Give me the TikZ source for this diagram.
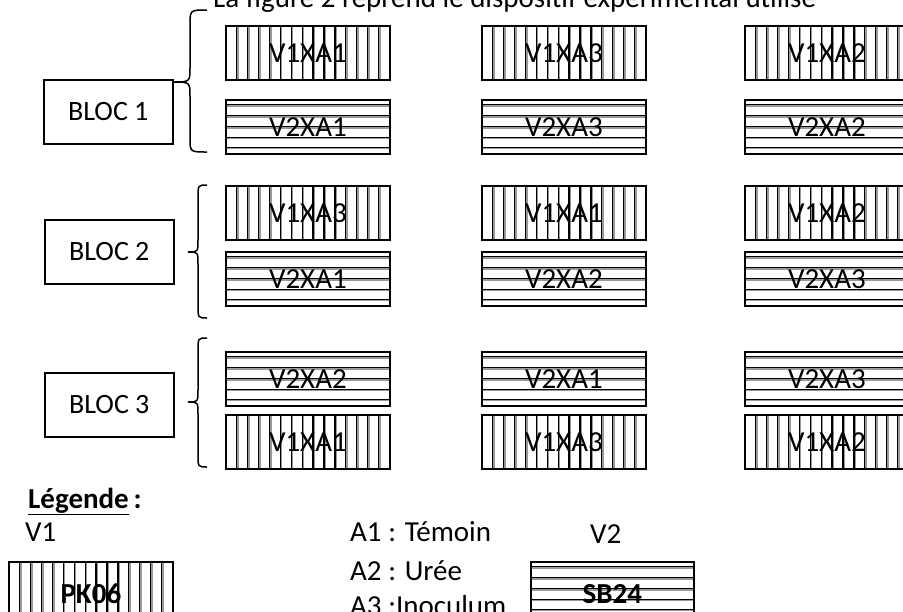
\documentclass[tikz,border=0pt]{standalone}
\usepackage{fontspec}
\setmainfont{Carlito}
\begin{document}
\begin{tikzpicture}[x=1pt,y=-1pt,
  txt/.style={font=\fontsize{29}{34}\selectfont, inner sep=0pt},
  plotv/.style={draw, line width=1.8pt, minimum width=164pt, minimum height=54pt, inner sep=0pt, anchor=north west,
    font=\fontsize{29}{34}\selectfont,
    path picture={
      \foreach \i in {1,...,14} {
        \draw[black!40, line width=1.4pt] ([xshift=\i*10.9pt+1.3pt]path picture bounding box.south west) -- ([xshift=\i*10.9pt+1.3pt]path picture bounding box.north west);
        \draw[black, line width=1.3pt] ([xshift=\i*10.9pt]path picture bounding box.south west) -- ([xshift=\i*10.9pt]path picture bounding box.north west);
      }}},
  ploth/.style={draw, line width=1.8pt, minimum width=164pt, minimum height=54pt, inner sep=0pt, anchor=north west,
    font=\fontsize{29}{34}\selectfont,
    path picture={
      \foreach \o in {4.7,15.7,26.7,37.3,47.3,58.3} {
        \draw[black!40, line width=1.4pt] ([yshift=-\o pt-1.3pt]path picture bounding box.north west) -- ([yshift=-\o pt-1.3pt]path picture bounding box.north east);
        \draw[black, line width=1.3pt] ([yshift=-\o pt]path picture bounding box.north west) -- ([yshift=-\o pt]path picture bounding box.north east);
      }}},
  blocbox/.style={draw, line width=1.5pt, minimum width=129pt, minimum height=64pt, inner sep=0pt, anchor=north west,
    font=\fontsize{28}{34}\selectfont},
  bracestyle/.style={line width=1.5pt}
]
\useasboundingbox (0,0) rectangle (903,611);
\clip (0,0) rectangle (903,611);

% title
\node[txt, anchor=base west] (title) at (213,7) {La figure 2 reprend le dispositif expérimental utilisé};

% BLOC boxes
\node[blocbox] (bloc1) at (43,79) {BLOC 1};
\node[blocbox] (bloc2) at (44,219) {BLOC 2};
\node[blocbox] (bloc3) at (44,372) {BLOC 3};

% braces
\draw[bracestyle] (207,10) .. controls (190,10) .. (190,25) -- (190,68) .. controls (190,82) .. (172,82)
  .. controls (190,82) .. (190,96) -- (190,138) .. controls (190,152) .. (207,152);
\draw[bracestyle] (207,185) .. controls (198,185) .. (198,198) -- (198,240) .. controls (198,252) .. (188,252)
  .. controls (198,252) .. (198,264) -- (198,305) .. controls (198,318) .. (207,318);
\draw[bracestyle] (207,338) .. controls (198,338) .. (198,351) -- (198,390) .. controls (198,402) .. (188,402)
  .. controls (198,402) .. (198,414) -- (198,454) .. controls (198,467) .. (207,467);

% Bloc 1
\node[plotv] (b1v1) at (225,25) {V1XA1};
\node[plotv] (b1v2) at (481,25) {V1XA3};
\node[plotv] (b1v3) at (744,25) {V1XA2};
\node[ploth] (b1h1) at (225,99) {V2XA1};
\node[ploth] (b1h2) at (481,99) {V2XA3};
\node[ploth] (b1h3) at (744,99) {V2XA2};

% Bloc 2
\node[plotv] (b2v1) at (225,185) {V1XA3};
\node[plotv] (b2v2) at (481,185) {V1XA1};
\node[plotv] (b2v3) at (744,185) {V1XA2};
\node[ploth] (b2h1) at (225,251) {V2XA1};
\node[ploth] (b2h2) at (481,251) {V2XA2};
\node[ploth] (b2h3) at (744,251) {V2XA3};

% Bloc 3
\node[ploth] (b3h1) at (225,351) {V2XA2};
\node[ploth] (b3h2) at (481,351) {V2XA1};
\node[ploth] (b3h3) at (744,351) {V2XA3};
\node[plotv] (b3v1) at (225,414) {V1XA1};
\node[plotv] (b3v2) at (481,414) {V1XA3};
\node[plotv] (b3v3) at (744,414) {V1XA2};

% legend
\node[txt, anchor=base west] (leg) at (28,508) {\textbf{\underline{Légende}\,:}};
\node[txt, anchor=base west] (lv1) at (25,541) {V1};
\node[txt, anchor=base west] (la1) at (350,541) {A1 : Témoin};
\node[txt, anchor=base west] (la2) at (350,580) {A2 : Urée};
\node[txt, anchor=base west] (la3) at (350,615) {A3 :Inoculum};
\node[txt, anchor=base west] (lv2) at (590,543) {V2};
\node[plotv, minimum height=64pt, font=\fontsize{29}{34}\selectfont\bfseries] (pk) at (8,561) {PK06};
\node[ploth, minimum width=163pt, minimum height=64pt, font=\fontsize{29}{34}\selectfont\bfseries] (sb) at (530,561) {SB24};
\end{tikzpicture}
\end{document}
